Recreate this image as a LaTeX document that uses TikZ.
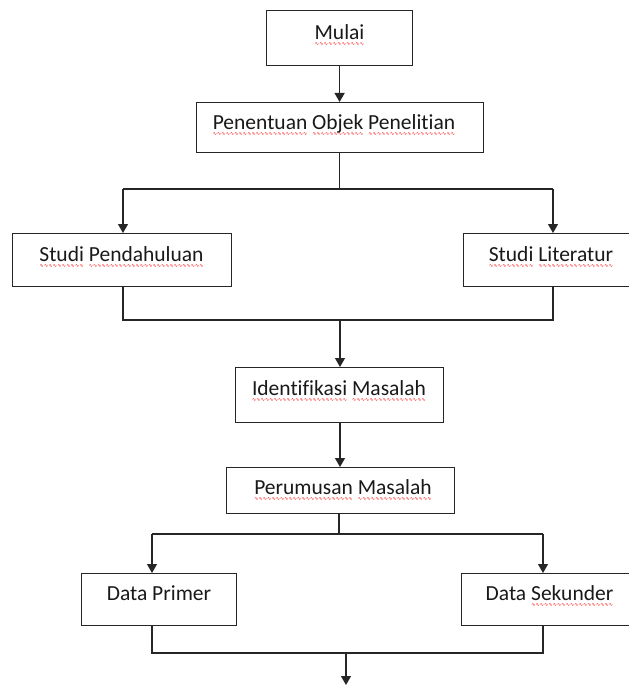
\documentclass[tikz,border=0pt]{standalone}
\usepackage{fontspec}
\setmainfont{Carlito}[Ligatures=NoCommon]
\newfontfamily\wavefont{DejaVu Sans}
\usetikzlibrary{arrows.meta}
\newsavebox\splbox
\newcommand\spl[1]{\sbox\splbox{#1}\rlap{\raisebox{-6bp}{\color{red}\wavefont\fontsize{5bp}{5bp}\selectfont\xleaders\hbox{∿}\hskip\wd\splbox}}\usebox\splbox}
\begin{document}
\begin{tikzpicture}[x=1bp,y=-1bp,
  box/.style={draw=black!85, line width=1.2bp, rectangle, inner sep=0pt, anchor=north west},
  lbl/.style={font=\fontsize{21.5bp}{26bp}\selectfont, text=black!90, anchor=base, inner sep=0pt},
  con/.style={draw=black!85, line width=1.2bp},
  arr/.style={con, -{Triangle[width=10bp,length=9bp]}}]
\useasboundingbox (0,0) rectangle (629,686);
\fill[white] (0,0) rectangle (629,686);
\clip (0,0) rectangle (629,686);
% boxes
\node[box, minimum width=146bp, minimum height=55bp] (mulai) at (266,10) {};
\node[box, minimum width=287bp, minimum height=50bp] (pen) at (196,102) {};
\node[box, minimum width=219bp, minimum height=53bp] (sp) at (12,233) {};
\node[box, minimum width=180bp, minimum height=53bp] (sl) at (463,233) {};
\node[box, minimum width=208bp, minimum height=55bp] (idm) at (235,367) {};
\node[box, minimum width=228bp, minimum height=46bp] (per) at (226,467) {};
\node[box, minimum width=155bp, minimum height=52bp] (dp) at (81,573) {};
\node[box, minimum width=180bp, minimum height=52bp] (ds) at (461,573) {};
% labels
\node[lbl] (mulaiT) at (339.5,40) {\spl{Mulai}};
\node[lbl] (penT) at (334,130) {\spl{Penentuan} \spl{Objek} \spl{Penelitian}};
\node[lbl] (spT) at (121.5,261) {\spl{Studi} \spl{Pendahuluan}};
\node[lbl] (slT) at (551,261) {\spl{Studi} \spl{Literatur}};
\node[lbl] (idmT) at (339,395) {\spl{Identifikasi} \spl{Masalah}};
\node[lbl] (perT) at (343,494) {\spl{Perumusan} \spl{Masalah}};
\node[lbl] (dpT) at (159,600) {Data Primer};
\node[lbl] (dsT) at (549.5,600) {Data \spl{Sekunder}};
% junction coordinates
\coordinate (j1) at (339.5,189);
\coordinate (jl) at (123,189);
\coordinate (jr) at (553,189);
\coordinate (ml) at (123,320);
\coordinate (mr) at (553,320);
\coordinate (mc) at (340,320);
\coordinate (k) at (339,534);
\coordinate (kl) at (152,534);
\coordinate (kr) at (543,534);
\coordinate (nl) at (152,653);
\coordinate (nr) at (543,653);
\coordinate (nc) at (346,653);
\coordinate (fin) at (346,685);
% connectors
\draw[arr] (mulai.south) -- (mulai.south |- pen.north);
\draw[con] (pen.south -| j1) -- (j1);
\draw[con] (jl) -- (jr);
\draw[arr] (jl) -- (jl |- sp.north);
\draw[arr] (jr) -- (jr |- sl.north);
\draw[con] (ml |- sp.south) -- (ml) -- (mr) -- (mr |- sl.south);
\draw[arr] (mc) -- (mc |- idm.north);
\draw[arr] (idm.south -| mc) -- (mc |- per.north);
\draw[con] (per.south -| k) -- (k);
\draw[con] (kl) -- (kr);
\draw[arr] (kl) -- (kl |- dp.north);
\draw[arr] (kr) -- (kr |- ds.north);
\draw[con] (nl |- dp.south) -- (nl) -- (nr) -- (nr |- ds.south);
\draw[arr] (nc) -- (fin);
\end{tikzpicture}
\end{document}
